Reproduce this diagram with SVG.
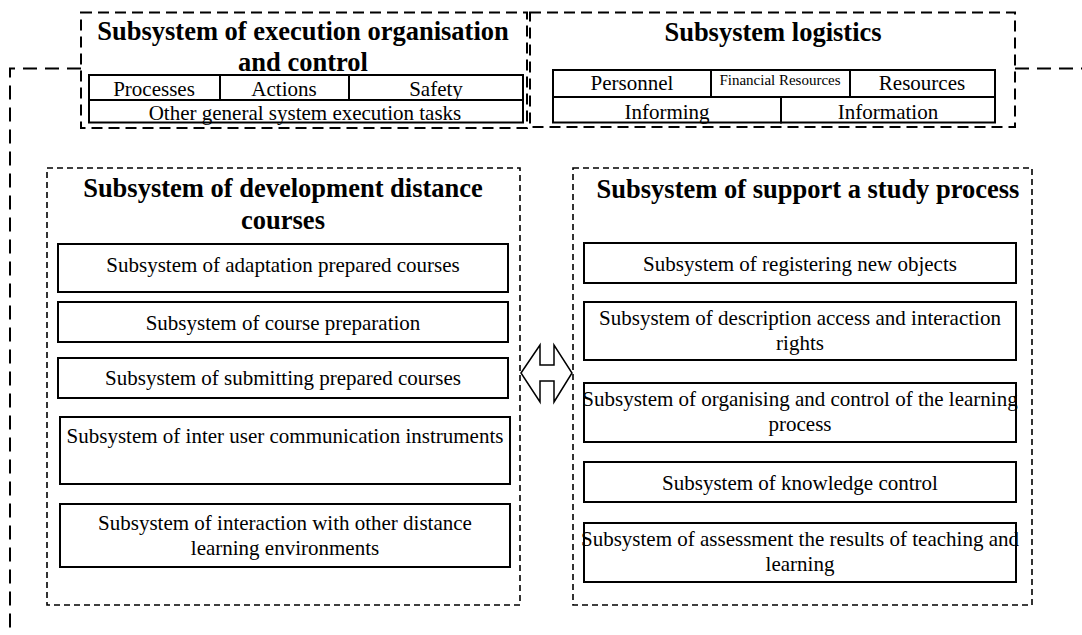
<svg xmlns="http://www.w3.org/2000/svg" width="1082" height="635" viewBox="0 0 1082 635">
<style>
.bg{fill:#fff}
.outer{fill:none;stroke:#000;stroke-width:2;stroke-dasharray:14 8}
.top{fill:#fff;stroke:#000;stroke-width:2;stroke-dasharray:11 6}
.grp{fill:none;stroke:#000;stroke-width:1.6;stroke-dasharray:6 4}
.cell{fill:#fff;stroke:#000;stroke-width:2}
.box{fill:#fff;stroke:#000;stroke-width:2}
.t{font-family:"Liberation Serif","Times New Roman",serif;font-size:21px;fill:#000;text-anchor:middle}
.s{font-family:"Liberation Serif","Times New Roman",serif;font-size:15px;fill:#000;text-anchor:middle}
.h{font-family:"Liberation Serif","Times New Roman",serif;font-size:26.5px;font-weight:bold;fill:#000;text-anchor:middle}
.arrow{fill:#fff;stroke:#000;stroke-width:1.5;stroke-linejoin:miter}
</style>
<rect class="bg" x="0" y="0" width="1082" height="635"/>
<g id="connectors">
<path class="outer" d="M81,68.5 H10 V640"/>
<path class="outer" d="M1015,68.5 H1090"/>
<polygon class="arrow" points="521,373 540,345 540,365 554,365 554,345 572,373 554,402 554,381 540,381 540,402"/>
</g>
<g id="execution">
<rect class="top" x="81" y="12.5" width="446" height="115.5"/>
<text class="h" x="303" y="40">Subsystem of execution organisation</text>
<text class="h" x="303" y="70.5">and control</text>
<rect class="cell" x="89" y="75" width="131" height="25"/>
<rect class="cell" x="220" y="75" width="129" height="25"/>
<rect class="cell" x="349" y="75" width="174" height="25"/>
<rect class="cell" x="89" y="100" width="434" height="22.5"/>
<text class="t" x="154" y="96">Processes</text>
<text class="t" x="284" y="96">Actions</text>
<text class="t" x="436" y="96">Safety</text>
<text class="t" x="305" y="120">Other general system execution tasks</text>
</g>
<g id="logistics">
<rect class="top" x="530" y="12.5" width="485" height="114.5"/>
<text class="h" x="773" y="40.5">Subsystem logistics</text>
<rect class="cell" x="553" y="70" width="158" height="27"/>
<rect class="cell" x="711" y="70" width="139" height="27"/>
<rect class="cell" x="850" y="70" width="145" height="27"/>
<rect class="cell" x="553" y="97" width="228" height="25.5"/>
<rect class="cell" x="781" y="97" width="214" height="25.5"/>
<text class="t" x="632" y="90">Personnel</text>
<text class="s" x="780" y="85">Financial Resources</text>
<text class="t" x="922" y="90">Resources</text>
<text class="t" x="667" y="118.5">Informing</text>
<text class="t" x="888" y="118.5">Information</text>
</g>
<g id="development">
<rect class="grp" x="47" y="168" width="473" height="437"/>
<text class="h" x="283" y="197">Subsystem of development distance</text>
<text class="h" x="283" y="229">courses</text>
<g id="dev1"><rect class="box" x="58" y="244" width="450" height="48"/><text class="t" x="283" y="272">Subsystem of adaptation prepared courses</text></g>
<g id="dev2"><rect class="box" x="58" y="302" width="450" height="40"/><text class="t" x="283" y="330">Subsystem of course preparation</text></g>
<g id="dev3"><rect class="box" x="58" y="358" width="450" height="40"/><text class="t" x="283" y="385">Subsystem of submitting prepared courses</text></g>
<g id="dev4"><rect class="box" x="60" y="417" width="450" height="67"/><text class="t" x="285" y="443">Subsystem of inter user communication instruments</text></g>
<g id="dev5"><rect class="box" x="60" y="504" width="450" height="63"/><text class="t" x="285" y="530">Subsystem of interaction with other distance</text><text class="t" x="285" y="555">learning environments</text></g>
</g>
<g id="support">
<rect class="grp" x="573" y="168" width="459" height="437"/>
<text class="h" x="808" y="198">Subsystem of support a study process</text>
<g id="sup1"><rect class="box" x="584" y="243" width="432" height="40"/><text class="t" x="800" y="271">Subsystem of registering new objects</text></g>
<g id="sup2"><rect class="box" x="584" y="302" width="432" height="58"/><text class="t" x="800" y="325">Subsystem of description access and interaction</text><text class="t" x="800" y="350">rights</text></g>
<g id="sup3"><rect class="box" x="584" y="383" width="432" height="59"/><text class="t" x="800" y="406">Subsystem of organising and control of the learning</text><text class="t" x="800" y="431">process</text></g>
<g id="sup4"><rect class="box" x="584" y="462" width="432" height="40"/><text class="t" x="800" y="490">Subsystem of knowledge control</text></g>
<g id="sup5"><rect class="box" x="584" y="523" width="432" height="59"/><text class="t" x="800" y="546">Subsystem of assessment the results of teaching and</text><text class="t" x="800" y="571">learning</text></g>
</g>
</svg>
